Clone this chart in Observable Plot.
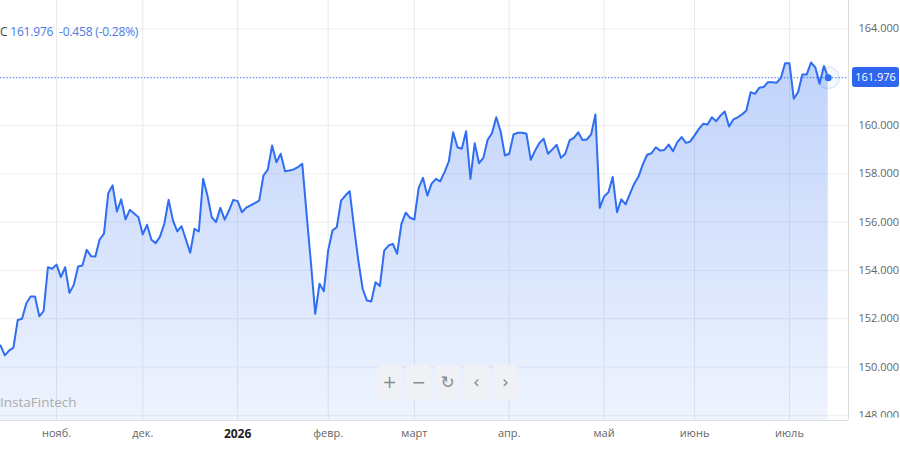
<!DOCTYPE html>
<html><head><meta charset="utf-8">
<script src="https://cdn.jsdelivr.net/npm/d3@7"></script>
<script src="https://cdn.jsdelivr.net/npm/@observablehq/plot@0.6"></script>
<style>
body{margin:0;background:#fff;font-family:"Open Sans",sans-serif;}
#wrap{position:relative;width:900px;height:460px;overflow:hidden;background:#fff;}
#legend{position:absolute;left:0;top:23px;font-size:12px;white-space:pre;letter-spacing:-0.2px;}
#legend .sym{color:#444;}
#legend .val{color:#4a7be8;}
#tag{position:absolute;left:852px;width:47px;height:20px;line-height:20px;border-radius:3px;background:#2f66f0;color:#fff;font-size:11px;text-align:center;}
.btn{position:absolute;top:365px;width:25px;height:34px;border-radius:4px;background:#f0f1f4;color:#8a8a8a;font-size:17px;line-height:34px;text-align:center;font-family:"DejaVu Sans",sans-serif;}
#wm{position:absolute;left:0;top:393px;font-size:13.5px;color:#ababab;font-family:"Open Sans",sans-serif;}
</style></head><body><div id="wrap"></div>
<script>
const startDate = "2025-10-15";
const endDate = "2026-07-14";
const holidays = ["2025-12-25", "2026-01-01"];
const closes = [
150.89,150.48,150.68,150.80,151.95,152.00,152.64,152.92,152.92,152.10,
152.31,154.13,154.07,154.24,153.72,154.13,153.07,153.40,154.16,154.20,
154.85,154.59,154.58,155.28,155.52,157.20,157.52,156.44,156.94,156.11,
156.51,156.36,156.20,155.49,155.89,155.27,155.13,155.40,155.93,156.92,
156.07,155.62,155.83,155.28,154.73,155.72,155.61,157.79,157.10,156.20,
156.00,156.59,156.10,156.48,156.92,156.87,156.41,156.60,156.69,156.79,
156.89,157.93,158.17,159.17,158.48,158.83,158.11,158.14,158.18,158.28,
158.41,156.34,154.33,152.20,153.45,153.14,154.82,155.65,155.79,156.89,
157.10,157.28,155.79,154.41,153.24,152.75,152.71,153.51,153.35,154.82,
155.03,155.10,154.69,155.93,156.39,156.18,156.11,157.42,157.83,157.10,
157.59,157.79,157.69,158.07,158.52,159.72,159.10,159.04,159.76,157.79,
159.27,158.44,158.66,159.41,159.68,160.34,159.76,158.76,158.83,159.63,
159.70,159.70,159.66,158.58,158.96,159.28,159.45,158.83,159.01,159.20,
158.66,158.83,159.38,159.49,159.72,159.40,159.42,159.63,160.46,156.59,
157.06,157.23,157.87,156.41,156.94,156.73,157.17,157.59,157.89,158.39,
158.79,158.85,159.10,158.96,158.99,159.21,158.94,159.31,159.52,159.28,
159.34,159.59,159.86,160.07,160.04,160.34,160.18,160.41,160.58,159.96,
160.25,160.34,160.46,160.62,161.38,161.31,161.56,161.59,161.79,161.79,
161.77,161.96,162.58,162.58,161.11,161.38,162.11,162.11,162.61,162.41,
161.73,162.46,161.976
];
const yTicks = [148, 150, 152, 154, 156, 158, 160, 162, 164];
const monthLabels = ["2026", "февр.", "март", "апр.", "май", "июнь", "июль", "авг.", "сент.", "окт.", "нояб.", "дек."];
const legendSymbol = "C";
const legendLast = "161.976";
const legendChange = "-0.458";
const legendPct = "(-0.28%)";
const buttonGlyphs = ["+", "−", "↻", "‹", "›"];
const watermark = "InstaFintech";

// trading days (weekdays minus holidays)
const dates = [];
for (let d = new Date(startDate + "T00:00:00Z"); d <= new Date(endDate + "T00:00:00Z"); d.setUTCDate(d.getUTCDate() + 1)) {
  const wd = d.getUTCDay(), iso = d.toISOString().slice(0, 10);
  if (wd === 0 || wd === 6 || holidays.includes(iso)) continue;
  dates.push(new Date(d));
}
const data = closes.map((c, i) => ({i, date: dates[i], close: c}));
const monthTicks = data.filter((d, i) => i > 0 && d.date.getUTCMonth() !== data[i - 1].date.getUTCMonth()).map(d => d.i);
const labelOf = i => monthLabels[data[i].date.getUTCMonth()];
const janTicks = monthTicks.filter(i => data[i].date.getUTCMonth() === 0);
const otherTicks = monthTicks.filter(i => data[i].date.getUTCMonth() !== 0);
const last = data[data.length - 1];
const yLo = 147.785, yHi = 165.176;
const xMax = data.length - 1 + 4.7;
const blue = "#2f6df2";
// the last-price tag covers the tick label nearest to it
const yLabelTicks = yTicks.filter(t => Math.abs(t - last.close) > 0.5);

const plot = Plot.plot({
  width: 900, height: 460,
  marginLeft: 0, marginRight: 52, marginTop: 0, marginBottom: 40,
  style: {fontFamily: "'Open Sans', sans-serif", fontSize: "11px", background: "transparent"},
  x: {domain: [0, xMax], axis: null},
  y: {domain: [yLo, yHi], axis: null},
  marks: [
    Plot.gridY(yTicks, {stroke: "#eeeeee", strokeOpacity: 1}),
    Plot.gridX(monthTicks, {stroke: "#eaeaea", strokeOpacity: 1}),
    Plot.areaY(data, {x: "i", y1: yLo, y2: "close", fill: "url(#areaGrad)"}),
    Plot.ruleY([last.close], {stroke: blue, strokeDasharray: "1.2,2", strokeWidth: 1}),
    Plot.lineY(data, {x: "i", y: "close", stroke: blue, strokeWidth: 2}),
    Plot.dot([last], {x: "i", y: "close", r: 11, fill: "rgba(47,109,242,0.05)", stroke: "rgba(47,109,242,0.12)"}),
    Plot.dot([last], {x: "i", y: "close", r: 3.5, fill: blue}),
    Plot.ruleX([xMax], {stroke: "#dddddd"}),
    Plot.ruleY([yLo], {stroke: "#dddddd"}),
    Plot.axisY(yLabelTicks, {anchor: "right", label: null, tickSize: 0, tickPadding: 10, tickFormat: d => d.toFixed(3), fill: "#666", fontSize: 11}),
    Plot.axisX(otherTicks, {anchor: "bottom", label: null, tickSize: 0, tickPadding: 9, tickFormat: labelOf, fill: "#666", fontSize: 11}),
    Plot.axisX(janTicks, {anchor: "bottom", label: null, tickSize: 0, tickPadding: 9, tickFormat: labelOf, fill: "#222", fontSize: 12, fontWeight: "bold"})
  ]
});

const svg = d3.select(plot);
const defs = svg.insert("defs", ":first-child");
const grad = defs.append("linearGradient").attr("id", "areaGrad").attr("x1", 0).attr("y1", 0).attr("x2", 0).attr("y2", 1);
grad.append("stop").attr("offset", 0).attr("stop-color", blue).attr("stop-opacity", 0.3);
grad.append("stop").attr("offset", 1).attr("stop-color", blue).attr("stop-opacity", 0.08);
defs.append("clipPath").attr("id", "axClip").append("rect").attr("x", 0).attr("y", 0).attr("width", 900).attr("height", 417);
svg.selectAll("g").filter(function () {
  const a = this.getAttribute("aria-label") || "";
  return a.startsWith("y-axis");
}).attr("clip-path", "url(#axClip)");

const wrap = document.getElementById("wrap");
wrap.appendChild(plot);
plot.style.position = "absolute"; plot.style.left = "0"; plot.style.top = "0";

const lg = document.createElement("div");
lg.id = "legend";
lg.innerHTML = `<span class="sym">${legendSymbol}</span> <span class="val">${legendLast}  ${legendChange} ${legendPct}</span>`;
wrap.appendChild(lg);

const tag = document.createElement("div");
tag.id = "tag";
tag.textContent = legendLast;
tag.style.top = (plot.scale("y").apply(last.close) - 10) + "px";
wrap.appendChild(tag);

buttonGlyphs.forEach((g, k) => {
  const b = document.createElement("div");
  b.className = "btn";
  b.style.left = (377 + k * 29) + "px";
  b.textContent = g;
  wrap.appendChild(b);
});

const wm = document.createElement("div");
wm.id = "wm";
wm.textContent = watermark;
wrap.appendChild(wm);
</script>
</body></html>
